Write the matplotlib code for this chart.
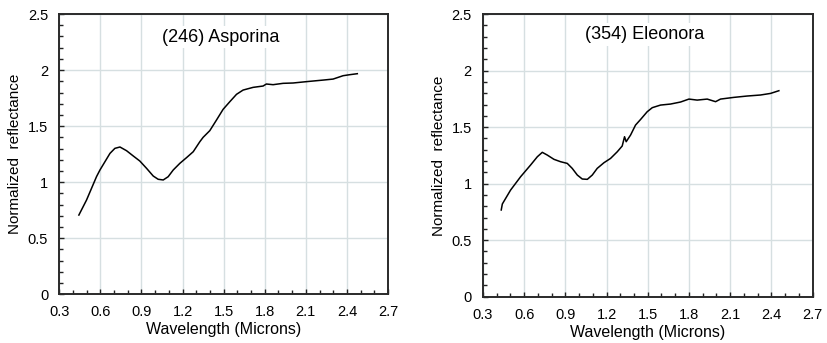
import matplotlib
matplotlib.use("Agg")
import matplotlib.pyplot as plt
from matplotlib.ticker import MultipleLocator, FuncFormatter

plt.rcParams['font.family'] = ['Liberation Sans', 'DejaVu Sans']

# (246) Asporina
asp_wl = [0.443, 0.499, 0.572, 0.597, 0.670, 0.706, 0.743, 0.791, 0.840, 0.888,
          0.937, 0.986, 1.022, 1.059, 1.095, 1.132, 1.180, 1.229, 1.278, 1.326,
          1.350, 1.399, 1.448, 1.496, 1.545, 1.594, 1.642, 1.715, 1.788, 1.812,
          1.861, 1.934, 2.007, 2.104, 2.226, 2.299, 2.372, 2.420, 2.476]
asp_refl = [0.707, 0.841, 1.050, 1.109, 1.257, 1.302, 1.314, 1.281, 1.234, 1.189,
            1.124, 1.055, 1.026, 1.020, 1.049, 1.109, 1.168, 1.219, 1.272, 1.361,
            1.400, 1.460, 1.555, 1.650, 1.718, 1.784, 1.822, 1.846, 1.858, 1.876,
            1.870, 1.882, 1.885, 1.897, 1.911, 1.920, 1.950, 1.959, 1.968]

# (354) Eleonora
ele_wl = [0.433, 0.441, 0.501, 0.574, 0.647, 0.696, 0.732, 0.768, 0.817, 0.865,
          0.914, 0.950, 0.987, 1.023, 1.060, 1.096, 1.132, 1.181, 1.229, 1.278,
          1.314, 1.331, 1.343, 1.375, 1.411, 1.448, 1.496, 1.533, 1.593, 1.666,
          1.739, 1.800, 1.860, 1.933, 1.994, 2.030, 2.127, 2.224, 2.321, 2.394, 2.455]
ele_refl = [0.767, 0.820, 0.943, 1.061, 1.165, 1.238, 1.277, 1.253, 1.215, 1.194,
            1.179, 1.135, 1.076, 1.041, 1.038, 1.076, 1.135, 1.185, 1.223, 1.282,
            1.333, 1.415, 1.371, 1.430, 1.518, 1.568, 1.636, 1.672, 1.695, 1.704,
            1.722, 1.748, 1.739, 1.748, 1.725, 1.748, 1.763, 1.775, 1.784, 1.798, 1.822]

titles = ["(246) Asporina", "(354) Eleonora"]
xlabel = "Wavelength (Microns)"
ylabel = "Normalized  reflectance"

fig = plt.figure(figsize=(8.28, 3.43), dpi=100)
ax1 = fig.add_axes([0.0716, 0.142, 0.397, 0.817])
ax2 = fig.add_axes([0.5833, 0.135, 0.398, 0.824])

fmt = FuncFormatter(lambda v, p: ('%g' % round(v, 2)))

for ax, wl, rf, title, ty in [(ax1, asp_wl, asp_refl, titles[0], 2.295),
                              (ax2, ele_wl, ele_refl, titles[1], 2.32)]:
    ax.plot(wl, rf, color='black', lw=1.1, zorder=3)
    ax.set_xlim(0.3, 2.7)
    ax.set_ylim(0, 2.5)
    ax.xaxis.set_major_locator(MultipleLocator(0.3))
    ax.xaxis.set_minor_locator(MultipleLocator(0.1))
    ax.yaxis.set_major_locator(MultipleLocator(0.5))
    ax.yaxis.set_minor_locator(MultipleLocator(0.1))
    ax.xaxis.set_major_formatter(fmt)
    ax.yaxis.set_major_formatter(fmt)
    ax.grid(True, which='major', color='#d6dfe1', lw=1.0, zorder=0)
    ax.set_axisbelow(True)
    ax.tick_params(which='both', direction='in', top=False, right=False,
                   labelsize=10.5, color='#222222', width=1.0)
    ax.tick_params(which='major', length=3.5)
    ax.tick_params(which='minor', length=3.0)
    ax.tick_params(axis='x', which='major', pad=8)
    ax.tick_params(axis='y', which='major', pad=8)
    for s in ax.spines.values():
        s.set_color('#2a2a2a')
        s.set_linewidth(1.4)
    ax.set_xlabel(xlabel, fontsize=11.5, labelpad=2)
    ax.set_ylabel(ylabel, fontsize=11, labelpad=4)
    ax.text(1.48, ty, title, fontsize=13, ha='center', va='center',
            bbox=dict(facecolor='white', edgecolor='none', pad=2), zorder=2)

fig.savefig("out.png", dpi=100)
